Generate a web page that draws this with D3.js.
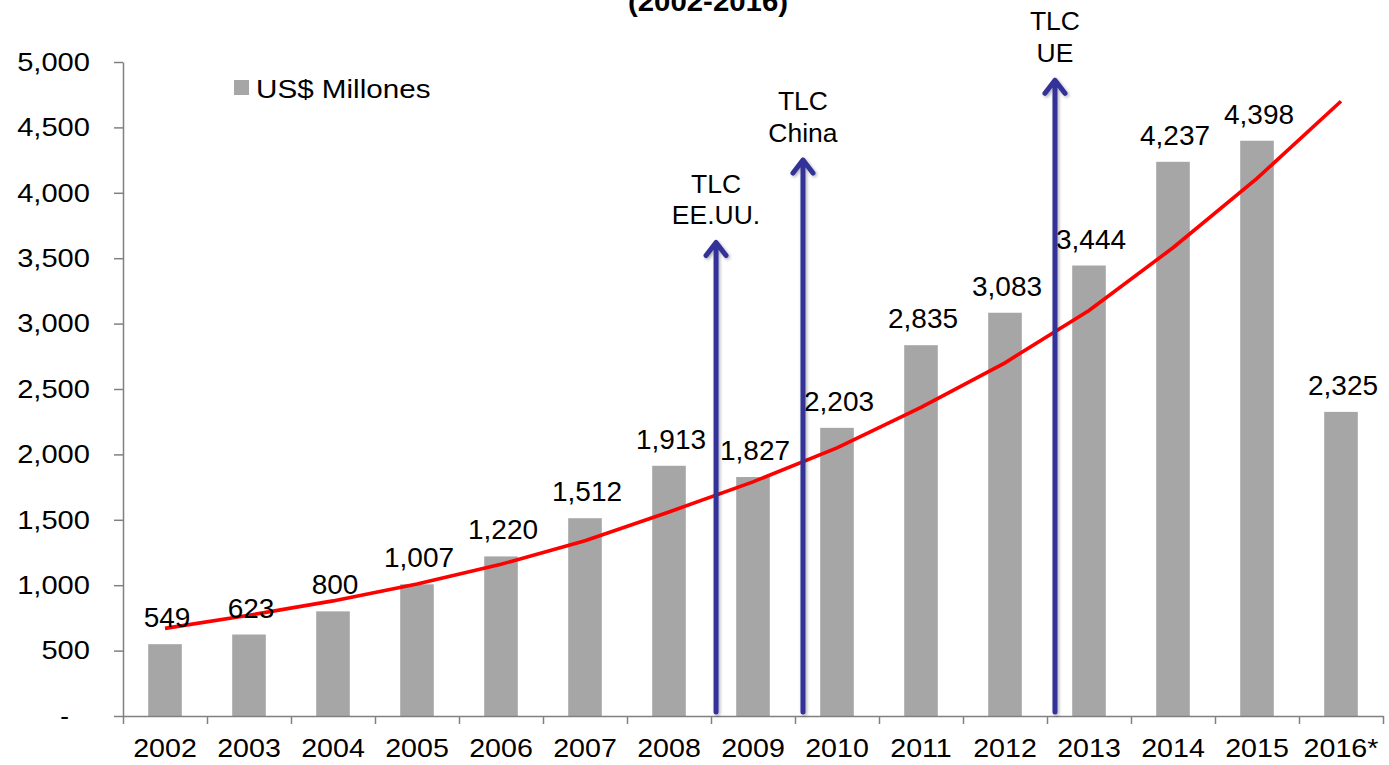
<!DOCTYPE html>
<html>
<head>
<meta charset="utf-8">
<script src="https://cdn.jsdelivr.net/npm/d3@7"></script>
<style>
  body { margin: 0; background: #fff; }
  text { font-family: "Liberation Sans", Arial, sans-serif; fill: #000; }
</style>
</head>
<body>
<div id="chart"></div>
<script>
// data
const years = ["2002", "2003", "2004", "2005", "2006", "2007", "2008", "2009", "2010", "2011", "2012", "2013", "2014", "2015", "2016*"];
const exportVals = [549, 623, 800, 1007, 1220, 1512, 1913, 1827, 2203, 2835, 3083, 3444, 4237, 4398, 2325];
const trend = [670, 770, 880, 1010, 1160, 1340, 1560, 1790, 2050, 2360, 2700, 3100, 3580, 4110, 4700];
const yTicks = [0, 500, 1000, 1500, 2000, 2500, 3000, 3500, 4000, 4500, 5000];
const arrowLabels = [["TLC", "EE.UU."], ["TLC", "China"], ["TLC", "UE"]];
const arrowPos = [7.06, 8.095, 11.095];   // in category units from the left edge
const arrowTop = [3620, 4250, 4860];
const legendLabel = "US$ Millones";
const subtitle = "(2002-2016)";

const W = 1389, H = 765;
const mLeft = 123, mRight = 1383, mTop = 62, mBottom = 716;

const svg = d3.select("#chart").append("svg")
    .attr("width", W)
    .attr("height", H);

const defs = svg.append("defs");
defs.append("filter").attr("id", "shadow")
    .attr("x", "-50%").attr("y", "-10%").attr("width", "200%").attr("height", "120%")
    .append("feDropShadow")
    .attr("dx", 1.5).attr("dy", 1.5).attr("stdDeviation", 1.5)
    .attr("flood-color", "#000").attr("flood-opacity", 0.3);

// the picture's text is drawn a little wide
function widen(sel, s) {
    sel.each(function () {
        const t = d3.select(this);
        const x = +t.attr("x") || 0;
        t.attr("transform", `translate(${x},0) scale(${s},1) translate(${-x},0)`);
    });
}

const x = d3.scaleBand()
    .domain(years)
    .range([mLeft, mRight])
    .paddingInner(0.6)
    .paddingOuter(0.3);

const xi = d3.scaleLinear()
    .domain([0, years.length])
    .range([mLeft, mRight]);

const y = d3.scaleLinear()
    .domain([0, 5000])
    .range([mBottom, mTop]);

// subtitle, cut off at the top edge as in the source
svg.append("text")
    .attr("x", 708)
    .attr("y", 11)
    .attr("text-anchor", "middle")
    .style("font-size", "28px")
    .style("font-weight", "bold")
    .text(subtitle)
    .call(widen, 1.05);

// bars
svg.selectAll(".bar")
    .data(exportVals)
    .enter()
    .append("rect")
    .attr("class", "bar")
    .attr("x", (d, i) => x(years[i]))
    .attr("y", d => y(d))
    .attr("width", x.bandwidth())
    .attr("height", d => y(0) - y(d))
    .attr("fill", "#a6a6a6");

// y axis
const yAxis = svg.append("g")
    .attr("transform", `translate(${mLeft},0)`)
    .call(d3.axisLeft(y)
        .tickValues(yTicks)
        .tickFormat(d => d === 0 ? "-" : d3.format(",")(d))
        .tickSize(9)
        .tickSizeOuter(0)
        .tickPadding(24));
yAxis.selectAll("path, line").attr("stroke", "#808080").attr("stroke-width", 1.5);
yAxis.selectAll("text")
    .style("font-size", "26px")
    .attr("fill", "#000")
    .call(widen, 1.12);
yAxis.selectAll("text").filter(d => d === 0).attr("x", -54).attr("transform", null);

// x axis, ticks on category edges
const xAxis = svg.append("g")
    .attr("transform", `translate(0,${mBottom})`)
    .call(d3.axisBottom(xi)
        .ticks(years.length)
        .tickFormat("")
        .tickSize(8)
        .tickSizeOuter(0));
xAxis.selectAll("path, line").attr("stroke", "#808080").attr("stroke-width", 1.5);

svg.selectAll(".xlab")
    .data(years)
    .enter()
    .append("text")
    .attr("class", "xlab")
    .attr("x", d => x(d) + x.bandwidth() / 2)
    .attr("y", 757)
    .attr("text-anchor", "middle")
    .style("font-size", "26px")
    .text(d => d)
    .call(widen, 1.1);

// trend line
const line = d3.line()
    .x((d, i) => x(years[i]) + x.bandwidth() / 2)
    .y(d => y(d));

svg.append("path")
    .datum(trend)
    .attr("d", line)
    .attr("fill", "none")
    .attr("stroke", "#ff0000")
    .attr("stroke-width", 3.6);

// value labels
svg.selectAll(".val")
    .data(exportVals)
    .enter()
    .append("text")
    .attr("class", "val")
    .attr("x", (d, i) => x(years[i]) + x.bandwidth() / 2 + 2)
    .attr("y", d => y(d) - 17)
    .attr("text-anchor", "middle")
    .style("font-size", "28px")
    .text(d => d3.format(",")(d));

// arrows for the trade agreements
const arrows = svg.selectAll(".arrow")
    .data(arrowPos)
    .enter()
    .append("g")
    .attr("class", "arrow");

arrows.append("path")
    .attr("d", (d, i) => {
        const ax = xi(d), t = y(arrowTop[i]), b = y(30);
        return `M${ax},${b}L${ax},${t}M${ax - 10},${t + 13}L${ax},${t}L${ax + 10},${t + 13}`;
    })
    .attr("fill", "none")
    .attr("stroke", "#333399")
    .attr("stroke-width", 5)
    .attr("stroke-linecap", "round")
    .attr("stroke-linejoin", "round")
    .attr("filter", "url(#shadow)");

arrows.each(function (d, i) {
    const g = d3.select(this);
    arrowLabels[i].forEach((lab, j) => {
        g.append("text")
            .attr("x", xi(d))
            .attr("y", y(arrowTop[i]) - 50 + j * 32)
            .attr("text-anchor", "middle")
            .style("font-size", "25px")
            .text(lab)
            .call(widen, 1.06);
    });
});

// legend
const legend = svg.append("g");
legend.append("rect")
    .attr("x", 234).attr("y", 80)
    .attr("width", 15).attr("height", 15)
    .attr("fill", "#a6a6a6");
legend.append("text")
    .attr("x", 256).attr("y", 98)
    .style("font-size", "26px")
    .text(legendLabel)
    .call(widen, 1.14);
</script>
</body>
</html>
